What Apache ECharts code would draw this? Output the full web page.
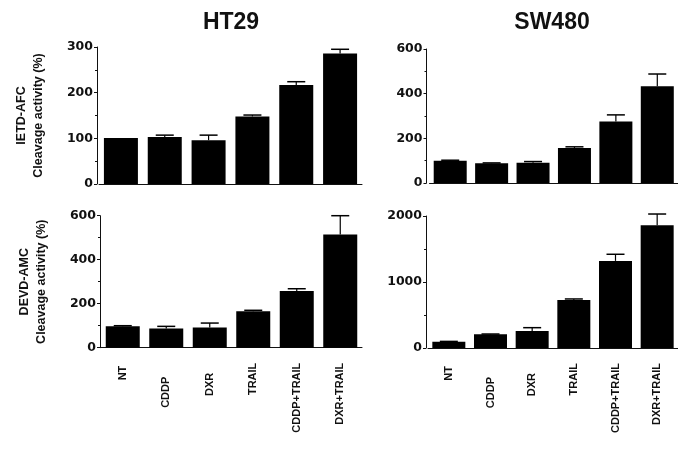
<!DOCTYPE html>
<html>
<head>
<meta charset="utf-8">
<script src="https://cdn.jsdelivr.net/npm/echarts@6/dist/echarts.min.js"></script>
<style>html,body{margin:0;padding:0;background:#fff}#c{width:678px;height:454px}</style>
</head>
<body>
<div id="c"></div>
<script>
var categories = ['NT', 'CDDP', 'DXR', 'TRAIL', 'CDDP+TRAIL', 'DXR+TRAIL'];
var ht29Ietd = [101, 103, 96, 148, 217, 286];
var ht29IetdErr = [0, 4, 11, 3, 7, 9];
var sw480Ietd = [100, 88, 91, 157, 275, 433];
var sw480IetdErr = [2, 2, 5, 5, 30, 55];
var ht29Devd = [98, 87, 92, 166, 258, 515];
var ht29DevdErr = [2, 10, 20, 4, 10, 85];
var sw480Devd = [95, 207, 258, 728, 1320, 1860];
var sw480DevdErr = [5, 5, 50, 15, 100, 170];
var labelDrop = [3, 14, 10, 0, 0, 0];

var FONT = 'Liberation Sans';
var TICKFONT = 'DejaVu Sans';
var ink = '#111';

var panels = [
  {grid: {left: 99, top: 47, width: 263, height: 137}, off: 2, max: 300, interval: 100, vals: ht29Ietd, errs: ht29IetdErr, labels: false, name: 'IETD-AFC\nCleavage activity (%)'},
  {grid: {left: 429.5, top: 49, width: 251.5, height: 134}, off: 3, max: 600, interval: 200, vals: sw480Ietd, errs: sw480IetdErr, labels: false, name: ''},
  {grid: {left: 101, top: 215.7, width: 261, height: 132}, off: 1, max: 600, interval: 200, vals: ht29Devd, errs: ht29DevdErr, labels: true, name: 'DEVD-AMC\nCleavage activity (%)'},
  {grid: {left: 428, top: 216, width: 251, height: 132}, off: 2, max: 2000, interval: 1000, vals: sw480Devd, errs: sw480DevdErr, labels: true, name: ''}
];

var grids = [], xAxes = [], yAxes = [], series = [];
panels.forEach(function (p, i) {
  grids.push(p.grid);
  xAxes.push({
    type: 'category', gridIndex: i,
    data: categories.map(function (c, k) {
      return {value: c, textStyle: {padding: [0, labelDrop[k], 0, 0]}};
    }),
    axisLine: {lineStyle: {color: ink, width: 1}},
    axisTick: {show: false},
    axisLabel: {show: p.labels, rotate: 90, margin: 15, interval: 0, fontFamily: FONT, fontWeight: 'bold', fontSize: 11, color: ink}
  });
  yAxes.push({
    type: 'value', gridIndex: i, min: 0, max: p.max, interval: p.interval, offset: p.off,
    axisLine: {show: true, lineStyle: {color: ink, width: 1}},
    axisTick: {show: true, length: 3, lineStyle: {color: ink}},
    minorTick: {show: true, splitNumber: 2, length: 2, lineStyle: {color: ink}},
    splitLine: {show: false},
    axisLabel: {margin: 4, fontFamily: TICKFONT, fontWeight: 'bold', fontSize: 12.5, color: ink,
      formatter: function (v) { return String(v); }},
    name: p.name, nameLocation: 'middle', nameRotate: 90, nameGap: 50,
    nameTextStyle: {fontFamily: FONT, fontWeight: 'bold', fontSize: 12.5, color: ink, lineHeight: 17}
  });
  series.push({
    type: 'bar', xAxisIndex: i, yAxisIndex: i, data: p.vals,
    barWidth: i % 2 === 0 ? 34 : 33,
    itemStyle: {color: '#000'}, silent: true
  });
  series.push({
    type: 'custom', xAxisIndex: i, yAxisIndex: i, silent: true, z: 3,
    data: p.vals.map(function (v, k) { return [k, v, v + p.errs[k]]; }),
    renderItem: function (params, api) {
      var base = api.coord([api.value(0), api.value(1)]);
      var top = api.coord([api.value(0), api.value(2)]);
      if (api.value(2) - api.value(1) <= 0) return null;
      var hw = 9;
      return {
        type: 'group',
        children: [
          {type: 'line', shape: {x1: base[0], y1: base[1], x2: top[0], y2: top[1]}, style: {stroke: '#000', lineWidth: 1.2}},
          {type: 'line', shape: {x1: top[0] - hw, y1: top[1], x2: top[0] + hw, y2: top[1]}, style: {stroke: '#000', lineWidth: 1.5}}
        ]
      };
    }
  });
});

var chart = echarts.init(document.getElementById('c'), null, {renderer: 'canvas'});
chart.setOption({
  backgroundColor: '#fff',
  animation: false,
  title: [
    {text: 'HT29', left: 226, top: 6, textAlign: 'center', textStyle: {fontFamily: FONT, fontWeight: 'bold', fontSize: 23, color: ink}},
    {text: 'SW480', left: 547, top: 6, textAlign: 'center', textStyle: {fontFamily: FONT, fontWeight: 'bold', fontSize: 23, color: ink}}
  ],
  grid: grids,
  xAxis: xAxes,
  yAxis: yAxes,
  series: series
});
</script>
</body>
</html>
